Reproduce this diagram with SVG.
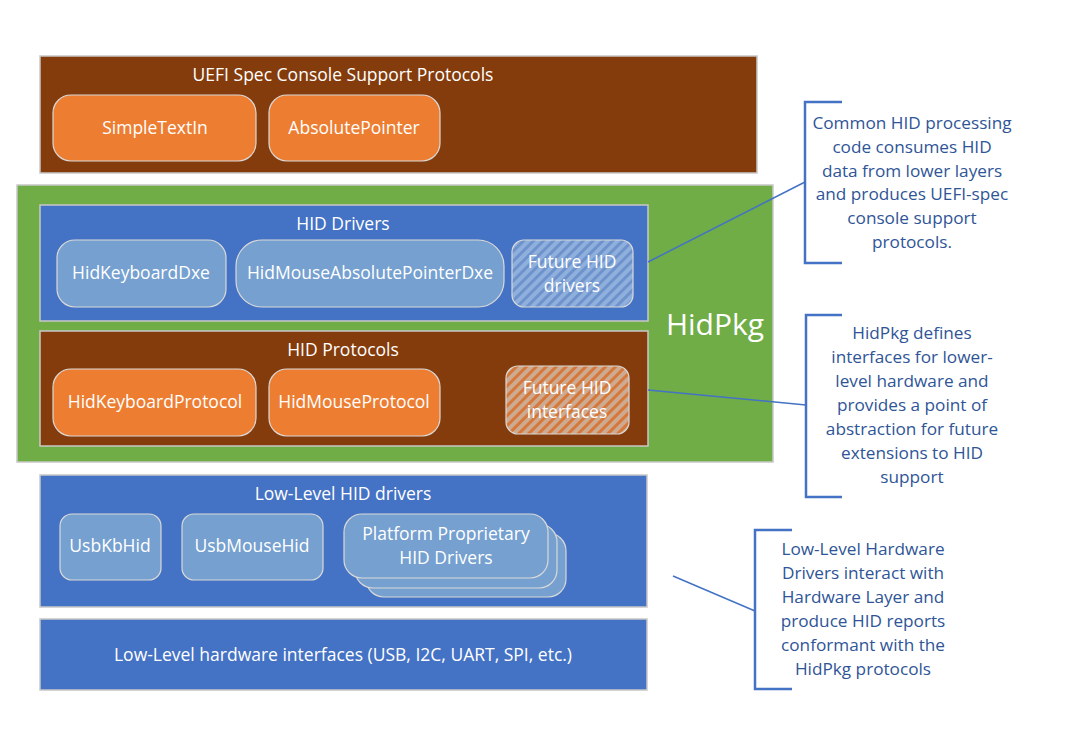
<svg xmlns="http://www.w3.org/2000/svg" width="1077" height="745" viewBox="0 0 1077 745">
<defs>
<style>
text{font-family:"Open Sans","Liberation Sans",sans-serif;text-anchor:middle}
.w{fill:#fff;font-size:17.5px}
.c{fill:#2F5597;font-size:17.2px}
.frame{stroke:#C8C8C8;stroke-width:1.5}
.brown{fill:#843C0C}
.blue{fill:#4472C4}
.green{fill:#70AD47}
.org{fill:#ED7D31;stroke:#D9D9D9;stroke-width:1.2}
.lb{fill:#75A0CF;stroke:#D9D9D9;stroke-width:1.2}
.br{fill:none;stroke:#4472C4;stroke-width:2.5}
.ln{stroke:#4472C4;stroke-width:1.5;fill:none}
</style>
<pattern id="hb" width="7" height="7" patternUnits="userSpaceOnUse" patternTransform="rotate(45)">
<rect width="7" height="7" fill="#8FAFDC"/>
<rect width="3" height="7" fill="#6E93CC"/>
</pattern>
<pattern id="ho" width="7" height="7" patternUnits="userSpaceOnUse" patternTransform="rotate(45)">
<rect width="7" height="7" fill="#CDAA92"/>
<rect width="3" height="7" fill="#D6783A"/>
</pattern>
</defs>

<g id="uefi">
<rect x="40" y="56" width="717" height="117" class="brown frame"/>
<text x="343" y="81" class="w">UEFI Spec Console Support Protocols</text>
</g>
<g id="simpletextin">
<rect x="53" y="95" width="203" height="66" rx="18" class="org"/>
<text x="155" y="134" class="w">SimpleTextIn</text>
</g>
<g id="absolutepointer">
<rect x="269" y="95" width="171" height="66" rx="18" class="org"/>
<text x="354" y="134" class="w">AbsolutePointer</text>
</g>

<g id="hidpkg">
<rect x="17" y="185" width="756" height="277" class="green frame"/>
<text x="715" y="335" fill="#fff" font-size="30">HidPkg</text>
</g>
<g id="hiddrivers">
<rect x="40" y="205" width="608" height="116" class="blue frame"/>
<text x="343" y="230" class="w">HID Drivers</text>
</g>
<g id="hidkeyboarddxe">
<rect x="57" y="240" width="169" height="67" rx="18" class="lb"/>
<text x="141" y="279" class="w">HidKeyboardDxe</text>
</g>
<g id="hidmouseabsolutepointerdxe">
<rect x="236" y="240" width="268" height="67" rx="26" class="lb"/>
<text x="370" y="279" class="w">HidMouseAbsolutePointerDxe</text>
</g>
<g id="futuredrivers">
<rect x="512" y="240" width="121" height="67" rx="12" fill="url(#hb)" stroke="#D9D9D9" stroke-width="1.2"/>
<text x="572" y="268" class="w">Future HID</text>
<text x="572" y="292" class="w">drivers</text>
</g>

<g id="hidprotocols">
<rect x="40" y="331" width="608" height="115" class="brown frame"/>
<text x="343" y="356" class="w">HID Protocols</text>
</g>
<g id="hidkeyboardprotocol">
<rect x="53" y="369" width="203" height="67" rx="18" class="org"/>
<text x="155" y="408" class="w">HidKeyboardProtocol</text>
</g>
<g id="hidmouseprotocol">
<rect x="269" y="369" width="171" height="67" rx="18" class="org"/>
<text x="354" y="408" class="w">HidMouseProtocol</text>
</g>
<g id="futureinterfaces">
<rect x="506" y="366" width="123" height="68" rx="12" fill="url(#ho)" stroke="#D9D9D9" stroke-width="1.2"/>
<text x="567" y="394" class="w">Future HID</text>
<text x="567" y="418" class="w">interfaces</text>
</g>

<g id="lowleveldrivers">
<rect x="40" y="475" width="607" height="132" class="blue frame"/>
<text x="343" y="500" class="w">Low-Level HID drivers</text>
</g>
<g id="usbkbhid">
<rect x="60" y="514" width="101" height="66" rx="12" class="lb"/>
<text x="110" y="552" class="w">UsbKbHid</text>
</g>
<g id="usbmousehid">
<rect x="182" y="514" width="141" height="66" rx="12" class="lb"/>
<text x="252" y="552" class="w">UsbMouseHid</text>
</g>
<g id="platformdrivers">
<rect x="366" y="533" width="200" height="64" rx="18" class="lb"/>
<rect x="355" y="524" width="202" height="64" rx="18" class="lb"/>
<rect x="344" y="514" width="204" height="64" rx="18" class="lb"/>
<text x="446" y="540" class="w">Platform Proprietary</text>
<text x="446" y="564" class="w">HID Drivers</text>
</g>

<g id="hwinterfaces">
<rect x="40" y="619" width="607" height="71" class="blue frame"/>
<text x="343" y="661" class="w">Low-Level hardware interfaces (USB, I2C, UART, SPI, etc.)</text>
</g>

<g id="callout1">
<path d="M842,102 H805 V263 H842" class="br"/>
<text x="912" y="129" class="c">Common HID processing</text>
<text x="912" y="153" class="c">code consumes HID</text>
<text x="912" y="177" class="c">data from lower layers</text>
<text x="912" y="200" class="c">and produces UEFI-spec</text>
<text x="912" y="224" class="c">console support</text>
<text x="912" y="248" class="c">protocols.</text>
</g>
<g id="callout2">
<path d="M842,315 H806 V497 H842" class="br"/>
<text x="912" y="339" class="c">HidPkg defines</text>
<text x="912" y="363" class="c">interfaces for lower-</text>
<text x="912" y="387" class="c">level hardware and</text>
<text x="912" y="411" class="c">provides a point of</text>
<text x="912" y="435" class="c">abstraction for future</text>
<text x="912" y="459" class="c">extensions to HID</text>
<text x="912" y="483" class="c">support</text>
</g>
<g id="callout3">
<path d="M792,530 H755 V689 H792" class="br"/>
<text x="863" y="555" class="c">Low-Level Hardware</text>
<text x="863" y="579" class="c">Drivers interact with</text>
<text x="863" y="603" class="c">Hardware Layer and</text>
<text x="863" y="627" class="c">produce HID reports</text>
<text x="863" y="651" class="c">conformant with the</text>
<text x="863" y="675" class="c">HidPkg protocols</text>
</g>

<g id="connectors">
<line x1="648" y1="262" x2="805" y2="182" class="ln"/>
<line x1="648" y1="390" x2="806" y2="405" class="ln"/>
<line x1="673" y1="576" x2="755" y2="611" class="ln"/>
</g>
</svg>
